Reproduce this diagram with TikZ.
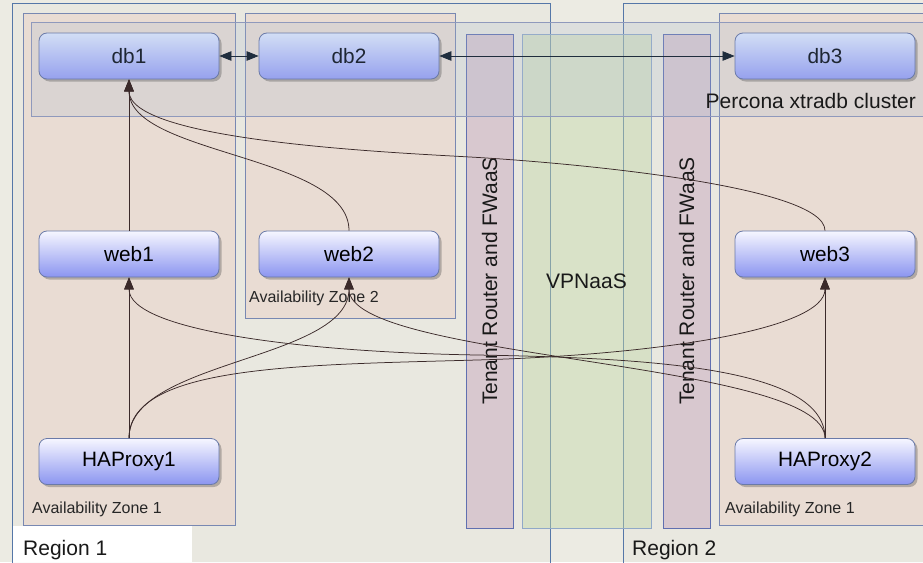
\documentclass[tikz,border=0pt]{standalone}
\usepackage{fontspec}
\setmainfont{Liberation Sans}
\usetikzlibrary{arrows.meta,shadows}

\definecolor{paper}{HTML}{ECEBE3}
\definecolor{regionline}{HTML}{5577A8}
\definecolor{zonefill}{HTML}{EAB8AC}
\definecolor{zoneline}{HTML}{7888B2}
\definecolor{clusterfill}{HTML}{A8B8D0}
\definecolor{clusterline}{HTML}{8F99BC}
\definecolor{fwfill}{HTML}{BE96B4}
\definecolor{fwline}{HTML}{6070B0}
\definecolor{vpnfill}{HTML}{C2D8A8}
\definecolor{vpnline}{HTML}{90A8C8}
\definecolor{boxline}{HTML}{6A7AA8}
\definecolor{boxtop}{HTML}{F6F6FF}
\definecolor{boxbottom}{HTML}{8B95F0}
\definecolor{dbtop}{HTML}{D2DEF5}
\definecolor{dbbottom}{HTML}{96A1EE}
\definecolor{dbtext}{HTML}{1E2633}
\definecolor{wire}{HTML}{3B2A2A}
\definecolor{dbwire}{HTML}{1F2D3D}

\begin{document}
\begin{tikzpicture}[x=1pt,y=-1pt,
  region/.style={draw=regionline,line width=0.8pt,fill=black,fill opacity=0.012},
  zone/.style={draw=zoneline,line width=0.7pt,fill=zonefill,fill opacity=0.24},
  cluster/.style={draw=clusterline,line width=0.6pt,fill=clusterfill,fill opacity=0.22},
  fwstrip/.style={draw=fwline,line width=0.7pt,fill=fwfill,fill opacity=0.38},
  vpnstrip/.style={draw=vpnline,line width=0.7pt,fill=vpnfill,fill opacity=0.45},
  server/.style={draw=boxline,line width=0.8pt,rounded corners=8pt,
    top color=boxtop,bottom color=boxbottom,
    minimum width=180pt,minimum height=46pt,inner sep=0pt,
    font=\fontsize{20.8}{24}\selectfont,text=black,
    drop shadow={shadow xshift=2.5pt,shadow yshift=-2.5pt,opacity=0.35,fill=black!70}},
  dbserver/.style={server,top color=dbtop,bottom color=dbbottom,text=dbtext},
  biglbl/.style={inner sep=0pt,font=\fontsize{21}{24}\selectfont,text=black!90},
  smalllbl/.style={inner sep=0pt,font=\fontsize{16}{19}\selectfont,text=black!85},
  conn/.style={draw=wire,line width=0.75pt,-{Triangle[length=12pt,width=9.5pt]}},
  dbconn/.style={draw=dbwire,line width=0.75pt,
    {Triangle[length=12pt,width=9.5pt]}-{Triangle[length=12pt,width=9.5pt]}}
]
\useasboundingbox (0,0) rectangle (923,562);
\clip (0,0) rectangle (923,562);

% paper
\fill[paper] (0,0) rectangle (923,562);

% regions
\path[region] (12,3) rectangle (550,580);
\path[region] (623,3) rectangle (950,580);
\fill[white] (12.6,526) rectangle (192,562);

% availability zones
\path[zone] (23,13) rectangle (235,525);
\path[zone] (245,13) rectangle (455,318);
\path[zone] (719,13) rectangle (950,525);

% network strips
\path[fwstrip] (466,34) rectangle (513,528);
\path[vpnstrip] (522,34) rectangle (651,528);
\path[fwstrip] (663,34) rectangle (710,528);

% database cluster band
\path[cluster] (31,22) rectangle (950,116);

% servers
\node[dbserver] (db1) at (129,56) {db1};
\node[dbserver] (db2) at (349,56) {db2};
\node[dbserver] (db3) at (825,56) {db3};
\node[server] (web1) at (129,254) {web1};
\node[server] (web2) at (349,254) {web2};
\node[server] (web3) at (825,254) {web3};
\node[server] (ha1) at (129,461.5) {HAProxy1};
\node[server] (ha2) at (825,461.5) {HAProxy2};

% labels
\node[biglbl,anchor=base east] (clusterlbl) at (916,108) {Percona xtradb cluster};
\node[biglbl,rotate=90] (fwleft) at (489.5,281) {Tenant Router and FWaaS};
\node[biglbl,rotate=90] (fwright) at (686.5,281) {Tenant Router and FWaaS};
\node[biglbl] (vpnlbl) at (586.5,281) {VPNaaS};
\node[smalllbl,anchor=base west] (az1l) at (32,513) {Availability Zone 1};
\node[smalllbl,anchor=base west] (az2) at (249,302.5) {Availability Zone 2};
\node[smalllbl,anchor=base west] (az1r) at (725,513) {Availability Zone 1};
\node[biglbl,anchor=base west] (reg1) at (23,555) {Region 1};
\node[biglbl,anchor=base west] (reg2) at (632,555) {Region 2};

% replication links
\draw[dbconn] (db1.east) -- (db2.west);
\draw[dbconn] (db2.east) -- (db3.west);

% web tier to database
\draw[conn] (web1.north) -- (db1.south);
\draw[conn] (web2.north) .. controls +(0,-76) and +(0,76) .. (db1.south);
\draw[conn] (web3.north) .. controls +(0,-46) and (560,162) .. (470,157)
  .. controls (380,152) and (129,140) .. (db1.south);

% load balancers to web tier
\draw[conn] (ha1.north) -- (web1.south);
\draw[conn] (ha1.north) .. controls +(0,-78) and +(0,83) .. (web2.south);
\draw[conn] (ha1.north) .. controls +(0,-73) and (300,365) .. (477,360)
  .. controls (654,355) and (825,330) .. (web3.south);
\draw[conn] (ha2.north) -- (web3.south);
\draw[conn] (ha2.north) .. controls +(0,-78) and +(0,83) .. (web2.south);
\draw[conn] (ha2.north) .. controls +(0,-70) and (654,358) .. (477,355)
  .. controls (300,352) and (129,330) .. (web1.south);
\end{tikzpicture}
\end{document}
